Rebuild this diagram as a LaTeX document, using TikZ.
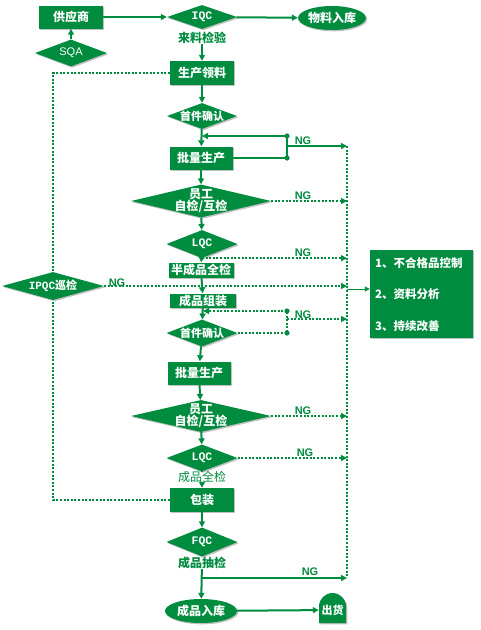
\documentclass[tikz,border=0pt]{standalone}
\usepackage{fontspec}
\setmainfont{Noto Sans CJK SC}
\newfontfamily\monof{Liberation Mono}
\newfontfamily\ngfont{Liberation Sans}
\usetikzlibrary{shapes.geometric,arrows.meta,shadows}
\definecolor{qg}{RGB}{0,140,62}
\tikzset{
  shd/.style={drop shadow={shadow xshift=1.3pt,shadow yshift=-1.3pt,opacity=.35,fill=black!70}},
  box/.style={rectangle,fill=qg,draw=none,inner sep=0pt,text=white,
    font=\bfseries\fontsize{12}{14}\selectfont,shd},
  dia/.style={diamond,fill=qg,draw=none,inner sep=0pt,aspect=1,shd},
  ell/.style={ellipse,fill=qg,draw=none,inner sep=0pt,text=white,
    font=\bfseries\fontsize{12}{14}\selectfont,shd},
  wt/.style={text=white,font=\bfseries\fontsize{12}{14}\selectfont,inner sep=0pt,align=center},
  wm/.style={text=white,font=\monof\bfseries\fontsize{11.5}{13}\selectfont,inner sep=0pt},
  gt/.style={text=qg,font=\bfseries\fontsize{12}{14}\selectfont,inner sep=0pt},
  ng/.style={text=qg,font=\ngfont\bfseries\fontsize{11}{12}\selectfont,inner sep=0pt},
  tip/.style={-{Triangle[length=6pt,width=6pt]}},
  sol/.style={draw=qg,line width=2pt},
  dotl/.style={draw=qg,line width=2.3pt,dash pattern=on 2pt off 1.6pt},
  jdot/.style={fill=qg},
}
\begin{document}
\begin{tikzpicture}[x=1pt,y=-1pt]
\useasboundingbox (0,0) rectangle (480,630);

% ---- nodes (top) ----
\node[box,minimum width=64pt,minimum height=23pt] (sup) at (71,17) {供应商};
\node[dia,minimum width=70pt,minimum height=24pt] (iqc) at (202,17) {};
\node[wm] (iqct) at (iqc) {IQC};
\node[gt] (t1) at (202,38) {来料检验};
\node[ell,minimum width=59pt,minimum height=24pt] (wh) at (332,18) {物料入库};
\node[dia,minimum width=72pt,minimum height=27pt] (sqa) at (71,53) {};
\node[text=white,font=\ngfont\fontsize{11}{13}\selectfont,inner sep=0pt] (sqat) at (sqa) {SQA};

\node[box,minimum width=64pt,minimum height=24pt] (sc1) at (202,73) {生产领料};
\node[dia,minimum width=70pt,minimum height=26pt] (fa1) at (202,116) {};
\node[wt,font=\bfseries\fontsize{11}{13}\selectfont] (fa1t) at (fa1) {首件确认};
\node[box,minimum width=63pt,minimum height=23pt] (bp1) at (201,158) {批量生产};
\node[dia,minimum width=140pt,minimum height=33pt] (emp1) at (201,201) {};
\node[wt] (emp1t) at (emp1) {员工\\[-2pt]自检/互检};
\node[dia,minimum width=71pt,minimum height=28pt] (lqc1) at (202,244) {};
\node[wm] (lqc1t) at (lqc1) {LQC};
\node[box,minimum width=65pt,minimum height=15pt] (half) at (201,270) {半成品全检};
\node[box,minimum width=66pt,minimum height=14pt] (asm) at (203,300.5) {成品组装};
\node[dia,minimum width=71pt,minimum height=27pt] (fa2) at (202,333) {};
\node[wt,font=\bfseries\fontsize{11}{13}\selectfont] (fa2t) at (fa2) {首件确认};
\node[box,minimum width=63pt,minimum height=23pt] (bp2) at (199,373) {批量生产};
\node[dia,minimum width=140pt,minimum height=32pt] (emp2) at (201,416) {};
\node[wt] (emp2t) at (emp2) {员工\\[-2pt]自检/互检};
\node[dia,minimum width=71pt,minimum height=27pt] (lqc2) at (202,458) {};
\node[wm] (lqc2t) at (lqc2) {LQC};
\node[gt,font=\fontsize{12}{14}\selectfont] (t2) at (202,477) {成品全检};
\node[box,minimum width=64pt,minimum height=24pt] (pack) at (202,500) {包装};
\node[dia,minimum width=71pt,minimum height=29pt] (fqc) at (202,542) {};
\node[wm] (fqct) at (fqc) {FQC};
\node[gt] (t3) at (202,563) {成品抽检};
\node[ell,minimum width=72pt,minimum height=24pt] (fin) at (201,611) {成品入库};

% ship (tombstone)
\fill[qg,shd] (319,623) -- (319,606.5) arc[start angle=180,end angle=360,radius=13.5] -- (346,623) -- cycle;
\node[wt,font=\bfseries\fontsize{11}{13}\selectfont,minimum width=27pt,minimum height=26pt] (ship) at (332.5,610) {出货};

% right box
\node[rectangle,fill=qg,minimum width=103pt,minimum height=88pt,inner sep=0pt,shd] (rb) at (421.5,294) {};
\node[wt,anchor=west,font=\bfseries\fontsize{11.5}{13}\selectfont] (r1) at (375,263) {1、不合格品控制};
\node[wt,anchor=west,font=\bfseries\fontsize{11.5}{13}\selectfont] (r2) at (375,294) {2、资料分析};
\node[wt,anchor=west,font=\bfseries\fontsize{11.5}{13}\selectfont] (r3) at (375,326) {3、持续改善};

% ---- left dotted loop (behind IPQC) ----
\coordinate (lt) at (53,73);
\coordinate (lb) at (53,500);
\draw[dotl] (sc1.west) -- (lt) -- (lb) -- (pack.west);
\node[dia,minimum width=102pt,minimum height=28pt] (ipqc) at (53,286) {};
\node[wt,font=\fontsize{11}{13}\selectfont] (ipqct) at (ipqc) {{\monof\bfseries IPQC}\bfseries 巡检};

% ---- right dotted collector ----
\coordinate (rtop) at (347,146);
\coordinate (rbot) at (347,578);
\draw[dotl] (rtop) -- (rbot);
\coordinate (rmid) at (347,289);
\draw[draw=qg,line width=1pt,-{Triangle[length=5pt,width=5pt]}] (rmid) -- (rmid -| rb.west);

% ---- main solid flow ----
\draw[sol,tip] (sup) -- (iqc);
\draw[sol,tip] (iqc) -- (wh);
\draw[sol,tip] (sqa) -- (sup);
\draw[sol,tip] (t1) -- (sc1);
\draw[sol,tip] (sc1) -- (fa1);
\draw[sol,tip] (fa1) -- (bp1);
\draw[sol,tip] (bp1) -- (emp1);
\draw[sol,tip] (emp1) -- (lqc1);
\draw[sol,tip] (lqc1) -- (half);
\draw[sol,tip] (half) -- (asm);
\draw[sol,tip] (asm) -- (fa2);
\draw[sol,tip] (fa2) -- (bp2);
\draw[sol,tip] (bp2) -- (emp2);
\draw[sol,tip] (emp2) -- (lqc2);
\draw[sol] (lqc2) -- (t2);
\draw[sol,tip] (t2) -- (pack);
\draw[sol,tip] (pack) -- (fqc);
\draw[sol,tip] (t3) -- (fin);
\draw[sol,tip] (fin) -- (ship);

% ---- loop 1 (solid) ----
\coordinate (l1a) at (287,136);
\coordinate (l1b) at (287,158);
\coordinate (l1c) at (287,146);
\draw[sol,tip] (l1a) -- (fa1.south |- l1a);
\draw[sol] (bp1.east) -- (l1b) -- (l1a);
\fill[jdot] (l1a) circle (2.6);
\fill[jdot] (l1b) circle (2.6);
\draw[sol,tip] (l1c) -- (l1c -| rtop);
\node[ng] (ng1) at (303,141) {NG};

% ---- NG dotted branches ----
\draw[dotl,tip] (emp1.east) -- (emp1.east -| rtop);
\node[ng] (ng2) at (303,196) {NG};
\draw[dotl,tip] (lqc1.south) -- (lqc1.south -| rtop);
\node[ng] (ng3) at (303,253) {NG};
\draw[dotl,tip] (ipqc.east) -- (ipqc.east -| rtop);
\node[ng] (ng4) at (117,283) {NG};

% ---- loop 2 (dotted) ----
\coordinate (l2a) at (287,311);
\coordinate (l2b) at (287,333);
\coordinate (l2c) at (287,319);
\draw[dotl,tip] (l2a) -- (asm.south |- l2a);
\draw[dotl] (fa2.east) -- (l2b) -- (l2a);
\fill[jdot] (l2a) circle (2.6);
\fill[jdot] (l2b) circle (2.6);
\draw[dotl,tip] (l2c) -- (l2c -| rtop);
\node[ng] (ng5) at (303,315) {NG};

\draw[dotl,tip] (emp2.east) -- (emp2.east -| rtop);
\node[ng] (ng6) at (303,411) {NG};
\draw[dotl,tip] (lqc2.east) -- (lqc2.east -| rtop);
\node[ng] (ng7) at (305,453) {NG};

% ---- FQC NG (solid) ----
\coordinate (j3) at (202,578);
\draw[sol,tip] (j3) -- (j3 -| rtop);
\node[ng] (ng8) at (310,572) {NG};

\end{tikzpicture}
\end{document}
